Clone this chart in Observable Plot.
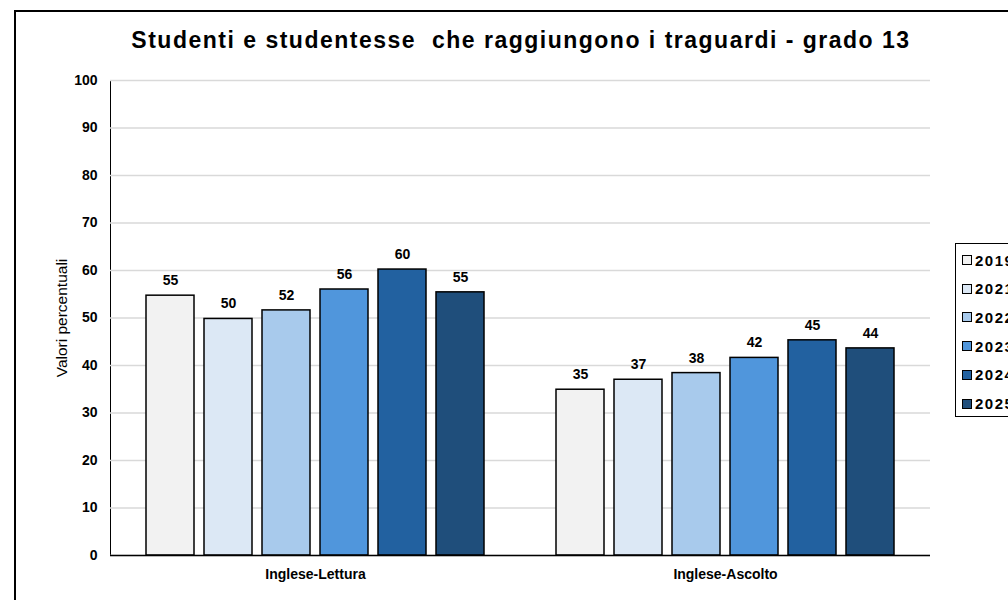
<!DOCTYPE html>
<html>
<head>
<meta charset="utf-8">
<script src="https://cdn.jsdelivr.net/npm/d3@7"></script>
<script src="https://cdn.jsdelivr.net/npm/@observablehq/plot@0.6"></script>
<style>
  html, body { margin: 0; padding: 0; background: #fff; }
  body { width: 1008px; height: 600px; overflow: hidden; position: relative; font-family: "Liberation Sans", Arial, sans-serif; }
  #frame { position: absolute; left: 14px; top: 10px; width: 1100px; height: 700px; border-left: 2px solid #000; border-top: 2px solid #000; box-sizing: border-box; }
  #title { position: absolute; left: 0; width: 1042px; top: 25px; text-align: center; font-weight: bold; font-size: 23px; letter-spacing: 1.5px; color: #000; white-space: pre; line-height: 30px; }
  #chart { position: absolute; left: 0; top: 0; }
  #legend { position: absolute; left: 955px; top: 243px; width: 80px; height: 174px; border: 1.5px solid #000; box-sizing: border-box; background: #fff; }
  .item { position: absolute; left: 6px; height: 16px; display: flex; align-items: center; font-weight: bold; font-size: 15px; letter-spacing: 1.5px; color: #000; }
  .sw { width: 8px; height: 8px; border: 1px solid #000; margin-right: 3px; }
  g[aria-label="y-axis tick label"] text, g[aria-label="fx-axis tick label"] text { font-weight: bold; }
  g[aria-label="y-axis label"] text { font-size: 15.5px; }
</style>
</head>
<body>
<div id="frame"></div>
<div id="chart"></div>
<div id="title">Studenti e studentesse  che raggiungono i traguardi - grado 13</div>
<div id="legend"></div>
<script>
const categories = ["Inglese-Lettura", "Inglese-Ascolto"];
const years = ["2019", "2021", "2022", "2023", "2024", "2025"];
const lettura = [54.7, 49.8, 51.6, 56.0, 60.2, 55.4];
const ascolto = [34.9, 37.0, 38.4, 41.6, 45.3, 43.6];
const colors = ["#f2f2f2", "#dce8f5", "#a8caec", "#5096dc", "#2261a0", "#1f4e7b"];
const yTicks = [0, 10, 20, 30, 40, 50, 60, 70, 80, 90, 100];

const series = [lettura, ascolto];
const data = [];
categories.forEach((c, i) => years.forEach((y, j) => data.push({cat: c, year: y, value: series[i][j]})));

const chart = Plot.plot({
  width: 1008,
  height: 600,
  marginTop: 80,
  marginBottom: 45,
  marginLeft: 110,
  marginRight: 78,
  style: {fontFamily: "'Liberation Sans', Arial, sans-serif", fontSize: "14px", color: "#000", background: "transparent"},
  fx: {domain: categories, padding: 0, axis: "bottom", label: null, tickSize: 0, tickPadding: 14, fontSize: 13.5},
  x: {domain: years, axis: null, paddingInner: 0.17, paddingOuter: 0.58},
  y: {domain: [0, 100], ticks: yTicks, tickSize: 0, tickPadding: 13, line: true, label: "Valori percentuali", labelAnchor: "center", labelOffset: 55, labelArrow: false},
  color: {domain: years, range: colors},
  marks: [
    Plot.gridY(yTicks, {stroke: "#d9d9d9", strokeOpacity: 1, strokeWidth: 1.3}),
    Plot.barY(data, {fx: "cat", x: "year", y: "value", fill: "year", stroke: "#000", strokeWidth: 1.5}),
    Plot.ruleY([0], {stroke: "#000", strokeWidth: 1.5}),
    Plot.text(data, {fx: "cat", x: "year", y: "value", text: d => String(Math.round(d.value)), dy: -15, fontWeight: "bold", fontSize: 14, fill: "#000"})
  ]
});
document.getElementById("chart").appendChild(chart);

const legend = document.getElementById("legend");
years.forEach((y, i) => {
  const it = document.createElement("div");
  it.className = "item";
  it.style.top = (8 + i * 28.7) + "px";
  const sw = document.createElement("div");
  sw.className = "sw";
  sw.style.background = colors[i];
  it.appendChild(sw);
  it.appendChild(document.createTextNode(y));
  legend.appendChild(it);
});
</script>
</body>
</html>
